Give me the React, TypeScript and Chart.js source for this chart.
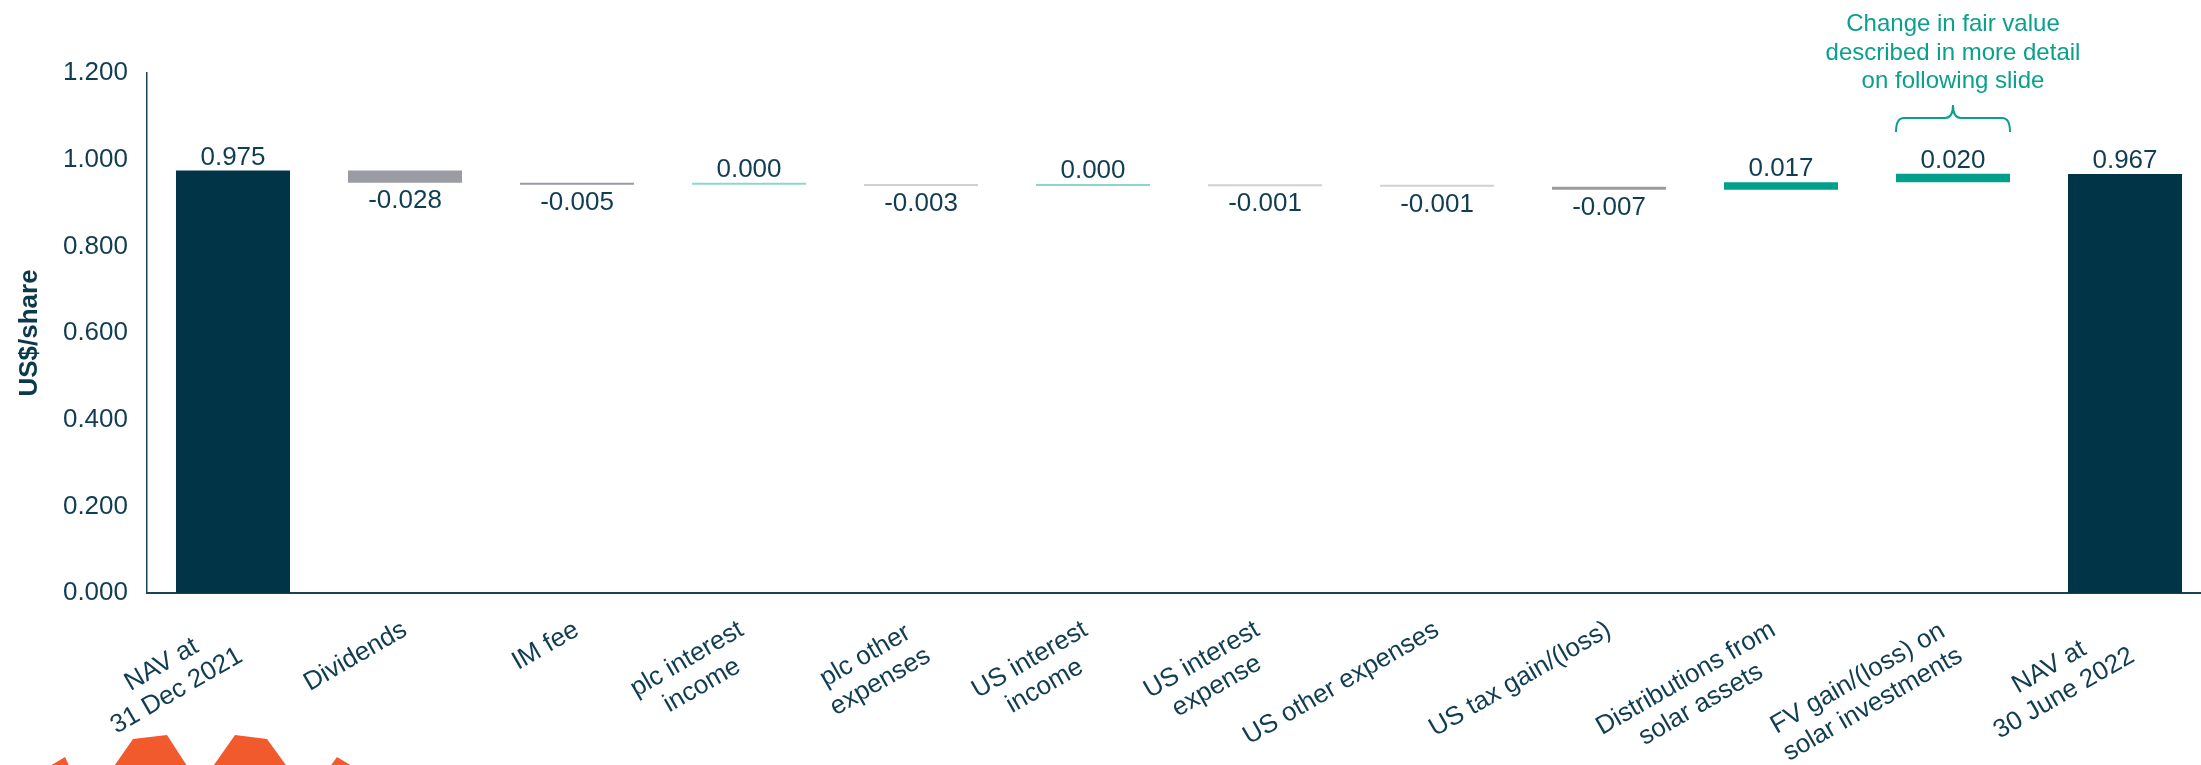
import React, { useEffect, useRef } from 'react';
import { Chart, registerables } from 'chart.js';

Chart.register(...registerables);

// ---------- data ----------
const categories: string[][] = [
  ['NAV at', '31 Dec 2021'],
  ['Dividends'],
  ['IM fee'],
  ['plc interest', 'income'],
  ['plc other', 'expenses'],
  ['US interest', 'income'],
  ['US interest', 'expense'],
  ['US other expenses'],
  ['US tax gain/(loss)'],
  ['Distributions from', 'solar assets'],
  ['FV gain/(loss) on', 'solar investments'],
  ['NAV at', '30 June 2022'],
];

const changes: number[] = [0.975, -0.028, -0.005, 0.0004, -0.003, 0.0003, -0.001, -0.001, -0.007, 0.017, 0.02, 0.967];
const isTotal: boolean[] = [true, false, false, false, false, false, false, false, false, false, false, true];

const yMin = 0;
const yMax = 1.2;
const yStep = 0.2;
const yTitle = 'US$/share';

const annotationLines: string[] = ['Change in fair value', 'described in more detail', 'on following slide'];
const annotationIndex = 10;

// ---------- styles ----------
const FONT = '"Liberation Sans", Arial, Helvetica, sans-serif';
const NAVY = '#023447';
const TEXT = '#113D52';
const AXIS = '#1B4257';
const GRAY = '#9A9BA3';
const GRAY_THIN = '#CFCFD6';
const TEAL = '#00A08C';
const TEAL_THIN = '#8AD8CB';
const ANNOT = '#0AA08C';
const ORANGE = '#F05A2C';

function buildRanges(): [number, number][] {
  let running = 0;
  return changes.map((v, i) => {
    if (isTotal[i]) {
      running = v;
      return [0, v] as [number, number];
    }
    const start = running;
    running += v;
    return [start, running] as [number, number];
  });
}

function barColor(i: number): string {
  const v = changes[i];
  if (isTotal[i]) return NAVY;
  if (v < 0) return Math.abs(v) >= 0.004 ? GRAY : GRAY_THIN;
  return Math.abs(v) >= 0.004 ? TEAL : TEAL_THIN;
}

const labelsPlugin = {
  id: 'customLabels',
  afterDraw(chart: any) {
    const ctx: CanvasRenderingContext2D = chart.ctx;
    const meta = chart.getDatasetMeta(0);
    const xs = chart.scales.x;
    const axisY = chart.chartArea.bottom;

    // value labels
    ctx.save();
    ctx.font = `26px ${FONT}`;
    ctx.fillStyle = TEXT;
    ctx.textAlign = 'center';
    ctx.textBaseline = 'alphabetic';
    meta.data.forEach((el: any, i: number) => {
      const top = Math.min(el.y, el.base);
      const bottom = Math.max(el.y, el.base);
      const v = changes[i];
      const txt = v.toFixed(3);
      if (v >= 0) ctx.fillText(txt, el.x, top - 6);
      else ctx.fillText(txt, el.x, bottom + 25);
    });
    ctx.restore();

    // rotated category labels
    ctx.save();
    ctx.font = `26px ${FONT}`;
    ctx.fillStyle = TEXT;
    ctx.textAlign = 'center';
    ctx.textBaseline = 'middle';
    const lh = 30;
    categories.forEach((lines, i) => {
      const x = xs.getPixelForTick(i);
      const h = lines.length * lh;
      const wb = Math.max(...lines.map((l) => ctx.measureText(l).width));
      ctx.save();
      ctx.translate(x, axisY + 22 + 0.433 * h);
      ctx.rotate(-Math.PI / 6);
      lines.forEach((l, j) => ctx.fillText(l, -wb / 2, -h / 2 + lh * (j + 0.5)));
      ctx.restore();
    });
    ctx.restore();

    // annotation with brace
    const el = meta.data[annotationIndex];
    if (el) {
      const x0 = el.x - el.width / 2;
      const x1 = el.x + el.width / 2;
      const xm = el.x;
      const yEnd = 132;
      const yMid = 118;
      const yTip = 105;
      const r = 8;
      ctx.save();
      ctx.strokeStyle = ANNOT;
      ctx.lineWidth = 2;
      ctx.beginPath();
      ctx.moveTo(x0, yEnd);
      ctx.quadraticCurveTo(x0, yMid, x0 + r, yMid);
      ctx.lineTo(xm - r, yMid);
      ctx.quadraticCurveTo(xm, yMid, xm, yTip);
      ctx.quadraticCurveTo(xm, yMid, xm + r, yMid);
      ctx.lineTo(x1 - r, yMid);
      ctx.quadraticCurveTo(x1, yMid, x1, yEnd);
      ctx.stroke();
      ctx.fillStyle = ANNOT;
      ctx.font = `24px ${FONT}`;
      ctx.textAlign = 'center';
      ctx.textBaseline = 'alphabetic';
      const baselines = [31, 59.5, 88];
      annotationLines.forEach((t, k) => ctx.fillText(t, xm, baselines[k]));
      ctx.restore();
    }

    // decorative orange logo rays (bottom-left)
    ctx.save();
    ctx.fillStyle = ORANGE;
    const shapes: number[][][] = [
      [[40, 772], [65, 757], [72, 772]],
      [[110, 772], [133, 739], [167, 735], [191, 772]],
      [[209, 772], [235, 735], [267, 739], [291, 772]],
      [[326, 772], [337, 757], [362, 772]],
    ];
    shapes.forEach((poly) => {
      ctx.beginPath();
      poly.forEach(([px, py], k) => (k === 0 ? ctx.moveTo(px, py) : ctx.lineTo(px, py)));
      ctx.closePath();
      ctx.fill();
    });
    ctx.restore();
  },
};

export default function App() {
  const ref = useRef<HTMLCanvasElement | null>(null);

  useEffect(() => {
    if (!ref.current) return;
    const ranges = buildRanges();
    const chart = new Chart(ref.current, {
      type: 'bar',
      data: {
        labels: categories,
        datasets: [
          {
            data: ranges as any,
            backgroundColor: changes.map((_, i) => barColor(i)),
            borderWidth: 0,
            categoryPercentage: 1,
            barPercentage: 0.663,
            minBarLength: 2,
          },
        ],
      },
      options: {
        responsive: false,
        animation: false,
        devicePixelRatio: 1,
        layout: { padding: { top: 73, left: 0, right: 0, bottom: 0 } },
        plugins: {
          legend: { display: false },
          tooltip: { enabled: false },
        },
        scales: {
          x: {
            type: 'category',
            grid: { display: false },
            ticks: { display: false },
            border: { display: true, color: AXIS, width: 2 },
            afterFit: (scale: any) => {
              scale.height = 172;
            },
          },
          y: {
            min: yMin,
            max: yMax,
            grid: { display: false, drawTicks: false },
            border: { display: true, color: AXIS, width: 1.5 },
            ticks: {
              stepSize: yStep,
              padding: 19,
              color: TEXT,
              font: { family: FONT, size: 26 },
              callback: (v: any) => Number(v).toFixed(3),
            },
            title: {
              display: true,
              text: yTitle,
              color: '#0B3A4E',
              font: { family: FONT, size: 26, weight: 'bold' },
              padding: { top: 14, bottom: 0 },
            },
            afterFit: (scale: any) => {
              scale.width = 147;
            },
          },
        },
      },
      plugins: [labelsPlugin],
    });
    return () => chart.destroy();
  }, []);

  return (
    <div
      style={{
        position: 'fixed',
        left: 0,
        top: 0,
        width: 2201,
        height: 765,
        overflow: 'hidden',
        background: '#ffffff',
      }}
    >
      <canvas ref={ref} width={2211} height={765} style={{ display: 'block' }} />
    </div>
  );
}
